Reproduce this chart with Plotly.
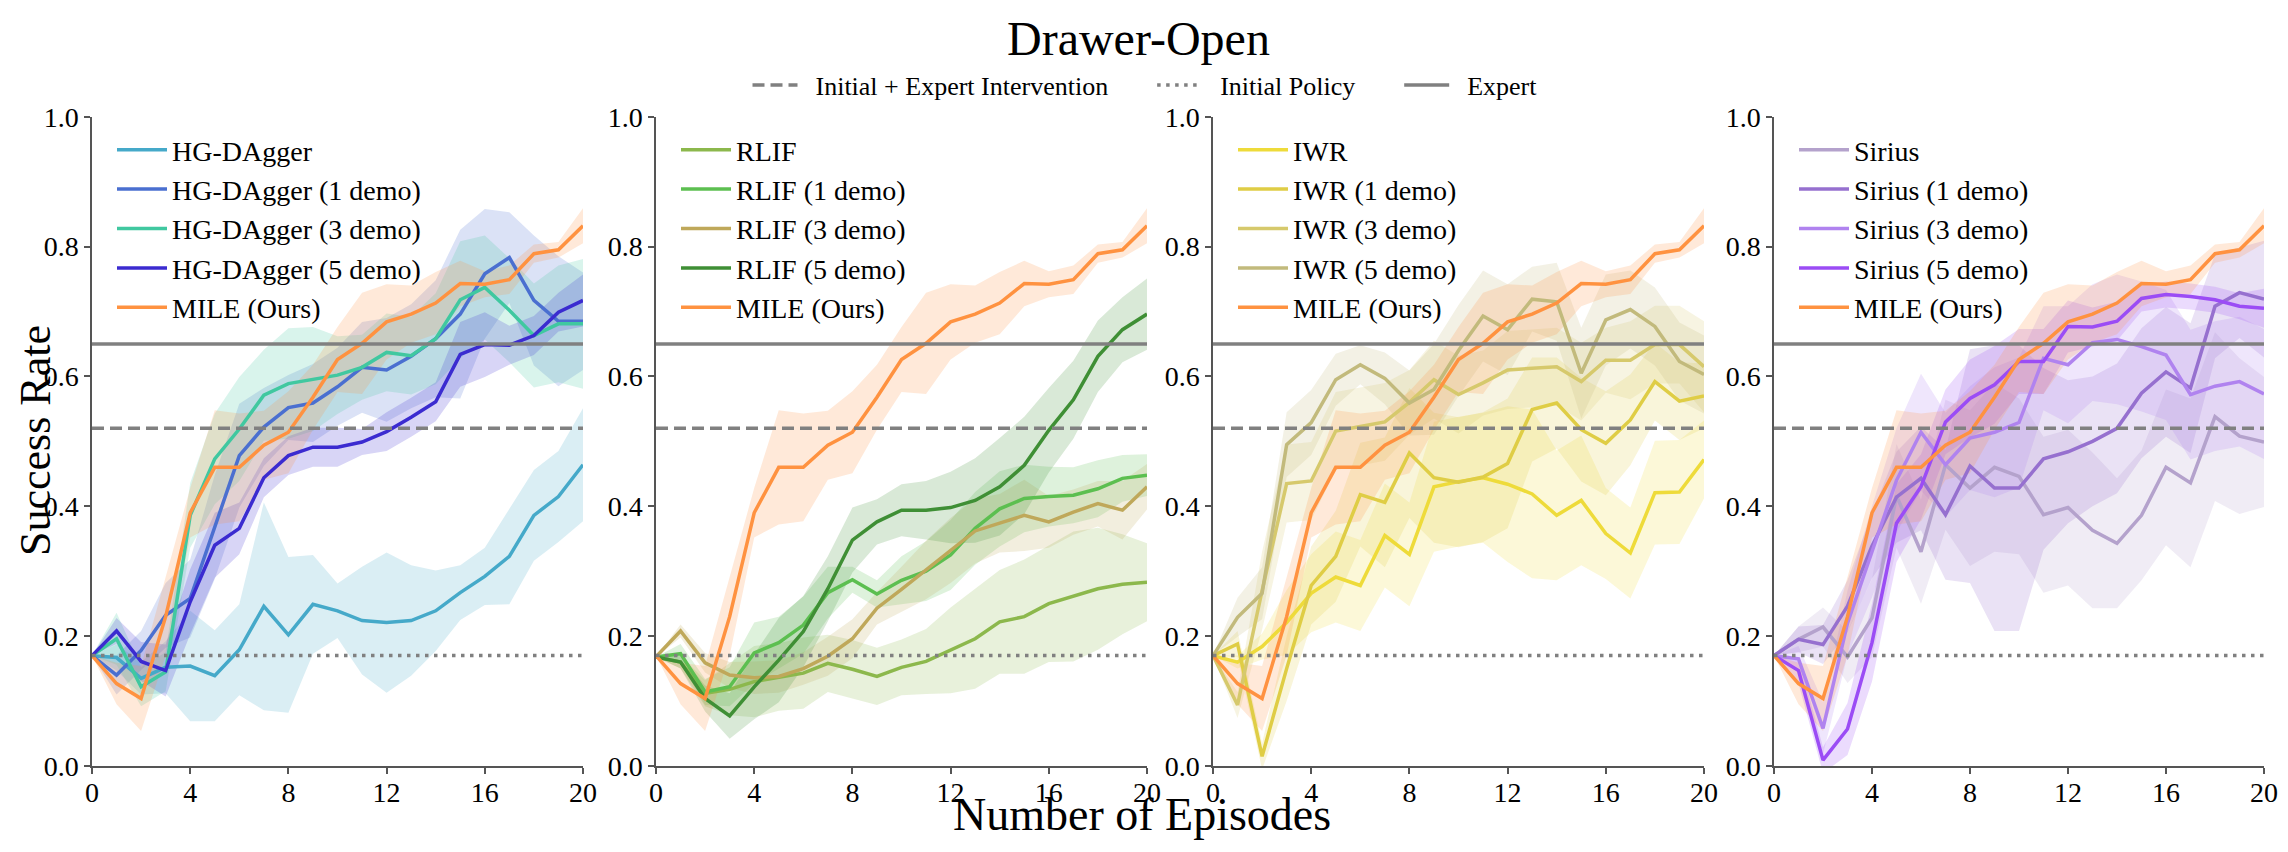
import plotly.graph_objects as go

episodes = list(range(21))

# ---------------- reference levels ----------------
initial_expert_intervention = 0.52
initial_policy = 0.17
expert = 0.65

# ---------------- MILE (shared by all panels) ----------------
mile = [0.17, 0.127, 0.104, 0.23, 0.39, 0.46, 0.46, 0.494, 0.514, 0.568, 0.626, 0.651, 0.684, 0.696, 0.713, 0.743, 0.742, 0.749, 0.789, 0.795, 0.832]
mile_sd = [0.0, 0.032, 0.05, 0.06, 0.038, 0.088, 0.083, 0.053, 0.063, 0.05, 0.05, 0.078, 0.058, 0.044, 0.048, 0.035, 0.02, 0.022, 0.014, 0.012, 0.027]

# ---------------- HG-DAgger panel ----------------
hg = [0.17, 0.167, 0.135, 0.152, 0.154, 0.139, 0.179, 0.246, 0.202, 0.249, 0.239, 0.224, 0.221, 0.224, 0.239, 0.267, 0.292, 0.323, 0.386, 0.415, 0.464]
hg_sd = [0.0, 0.02, 0.025, 0.04, 0.085, 0.07, 0.07, 0.16, 0.12, 0.076, 0.042, 0.083, 0.108, 0.085, 0.062, 0.042, 0.044, 0.074, 0.07, 0.07, 0.087]
hg1 = [0.17, 0.14, 0.178, 0.232, 0.258, 0.368, 0.478, 0.522, 0.552, 0.559, 0.584, 0.614, 0.61, 0.631, 0.658, 0.696, 0.758, 0.783, 0.717, 0.685, 0.685]
hg1_sd = [0.0, 0.03, 0.03, 0.05, 0.06, 0.08, 0.08, 0.06, 0.05, 0.06, 0.06, 0.07, 0.08, 0.08, 0.09, 0.13, 0.1, 0.07, 0.1, 0.1, 0.075]
hg3 = [0.17, 0.196, 0.122, 0.145, 0.386, 0.473, 0.519, 0.571, 0.589, 0.596, 0.602, 0.614, 0.637, 0.632, 0.658, 0.718, 0.737, 0.702, 0.663, 0.681, 0.681]
hg3_sd = [0.0, 0.04, 0.03, 0.03, 0.05, 0.07, 0.08, 0.07, 0.085, 0.08, 0.06, 0.05, 0.06, 0.06, 0.07, 0.09, 0.08, 0.08, 0.08, 0.09, 0.1]
hg5 = [0.17, 0.208, 0.161, 0.147, 0.253, 0.34, 0.366, 0.444, 0.478, 0.491, 0.491, 0.499, 0.515, 0.537, 0.561, 0.634, 0.649, 0.648, 0.663, 0.699, 0.717]
hg5_sd = [0.0, 0.02, 0.03, 0.04, 0.05, 0.05, 0.04, 0.03, 0.03, 0.03, 0.03, 0.02, 0.03, 0.03, 0.03, 0.05, 0.05, 0.03, 0.03, 0.03, 0.04]

# ---------------- RLIF panel ----------------
rlif = [0.168, 0.16, 0.112, 0.118, 0.13, 0.137, 0.143, 0.158, 0.149, 0.138, 0.152, 0.161, 0.178, 0.196, 0.222, 0.23, 0.25, 0.261, 0.273, 0.28, 0.283]
rlif_sd = [0.0, 0.01, 0.02, 0.04, 0.055, 0.052, 0.055, 0.044, 0.045, 0.044, 0.043, 0.05, 0.066, 0.077, 0.08, 0.088, 0.09, 0.1, 0.094, 0.077, 0.06]
rlif1 = [0.168, 0.173, 0.114, 0.122, 0.174, 0.19, 0.217, 0.267, 0.287, 0.265, 0.286, 0.3, 0.325, 0.366, 0.396, 0.412, 0.415, 0.417, 0.427, 0.443, 0.448]
rlif1_sd = [0.0, 0.015, 0.02, 0.03, 0.047, 0.04, 0.044, 0.04, 0.02, 0.021, 0.037, 0.046, 0.054, 0.056, 0.058, 0.052, 0.046, 0.043, 0.044, 0.036, 0.032]
rlif3 = [0.168, 0.208, 0.159, 0.14, 0.136, 0.138, 0.15, 0.169, 0.196, 0.243, 0.272, 0.302, 0.332, 0.362, 0.374, 0.386, 0.376, 0.391, 0.404, 0.394, 0.43]
rlif3_sd = [0.0, 0.01, 0.015, 0.02, 0.025, 0.025, 0.025, 0.03, 0.03, 0.025, 0.035, 0.045, 0.05, 0.05, 0.045, 0.055, 0.04, 0.035, 0.035, 0.045, 0.035]
rlif5 = [0.168, 0.16, 0.104, 0.077, 0.122, 0.163, 0.207, 0.273, 0.348, 0.376, 0.394, 0.394, 0.398, 0.409, 0.43, 0.463, 0.517, 0.564, 0.631, 0.672, 0.696]
rlif5_sd = [0.0, 0.01, 0.02, 0.035, 0.05, 0.065, 0.055, 0.05, 0.05, 0.035, 0.04, 0.045, 0.055, 0.065, 0.075, 0.075, 0.065, 0.06, 0.055, 0.05, 0.055]

# ---------------- IWR panel ----------------
iwr = [0.17, 0.16, 0.184, 0.221, 0.266, 0.291, 0.278, 0.355, 0.326, 0.43, 0.438, 0.444, 0.434, 0.419, 0.386, 0.409, 0.358, 0.328, 0.421, 0.422, 0.472]
iwr_sd = [0.0, 0.01, 0.02, 0.05, 0.06, 0.07, 0.07, 0.08, 0.08, 0.1, 0.1, 0.1, 0.12, 0.13, 0.1, 0.1, 0.07, 0.07, 0.08, 0.08, 0.06]
iwr1 = [0.17, 0.188, 0.015, 0.15, 0.278, 0.323, 0.418, 0.406, 0.482, 0.444, 0.437, 0.445, 0.466, 0.549, 0.559, 0.518, 0.497, 0.533, 0.592, 0.562, 0.57]
iwr1_sd = [0.0, 0.02, 0.02, 0.05, 0.06, 0.07, 0.08, 0.1, 0.1, 0.1, 0.1, 0.1, 0.1, 0.08, 0.07, 0.08, 0.08, 0.07, 0.06, 0.06, 0.05]
iwr3 = [0.17, 0.094, 0.27, 0.435, 0.439, 0.516, 0.523, 0.53, 0.56, 0.595, 0.572, 0.59, 0.61, 0.613, 0.615, 0.592, 0.625, 0.625, 0.649, 0.649, 0.615]
iwr3_sd = [0.0, 0.02, 0.06, 0.06, 0.06, 0.06, 0.06, 0.06, 0.05, 0.06, 0.06, 0.05, 0.06, 0.06, 0.06, 0.06, 0.05, 0.06, 0.06, 0.06, 0.07]
iwr5 = [0.17, 0.229, 0.266, 0.495, 0.529, 0.595, 0.618, 0.597, 0.559, 0.58, 0.64, 0.693, 0.672, 0.719, 0.715, 0.605, 0.687, 0.703, 0.677, 0.623, 0.603]
iwr5_sd = [0.0, 0.03, 0.04, 0.05, 0.05, 0.04, 0.03, 0.04, 0.05, 0.07, 0.07, 0.07, 0.07, 0.05, 0.06, 0.07, 0.07, 0.06, 0.06, 0.06, 0.06]

# ---------------- Sirius panel ----------------
sir = [0.17, 0.195, 0.214, 0.168, 0.228, 0.416, 0.33, 0.464, 0.428, 0.46, 0.446, 0.387, 0.398, 0.363, 0.343, 0.386, 0.46, 0.436, 0.538, 0.508, 0.499]
sir_sd = [0.0, 0.02, 0.03, 0.04, 0.06, 0.08, 0.08, 0.1, 0.12, 0.13, 0.12, 0.12, 0.12, 0.12, 0.1, 0.1, 0.12, 0.13, 0.13, 0.12, 0.1]
sir1 = [0.17, 0.195, 0.187, 0.246, 0.339, 0.414, 0.443, 0.387, 0.462, 0.428, 0.428, 0.473, 0.484, 0.5, 0.52, 0.574, 0.607, 0.582, 0.708, 0.729, 0.719]
sir1_sd = [0.0, 0.02, 0.03, 0.04, 0.05, 0.07, 0.08, 0.1, 0.18, 0.22, 0.22, 0.14, 0.11, 0.1, 0.1, 0.1, 0.1, 0.1, 0.08, 0.07, 0.09]
sir3 = [0.17, 0.165, 0.058, 0.22, 0.33, 0.44, 0.514, 0.464, 0.505, 0.514, 0.529, 0.628, 0.618, 0.652, 0.657, 0.646, 0.633, 0.572, 0.585, 0.592, 0.573]
sir3_sd = [0.0, 0.02, 0.04, 0.05, 0.07, 0.08, 0.09, 0.08, 0.08, 0.1, 0.1, 0.08, 0.09, 0.09, 0.1, 0.1, 0.1, 0.1, 0.1, 0.1, 0.1]
sir5 = [0.17, 0.147, 0.009, 0.057, 0.19, 0.374, 0.43, 0.53, 0.566, 0.587, 0.623, 0.623, 0.677, 0.676, 0.685, 0.72, 0.726, 0.723, 0.718, 0.708, 0.705]
sir5_sd = [0.0, 0.02, 0.02, 0.04, 0.06, 0.06, 0.05, 0.05, 0.06, 0.06, 0.05, 0.05, 0.04, 0.03, 0.03, 0.02, 0.02, 0.02, 0.02, 0.02, 0.03]

x_ticks = [0, 4, 8, 12, 16, 20]
y_ticks = [0.0, 0.2, 0.4, 0.6, 0.8, 1.0]

MILE_COLOR = "#ff9240"
panels = [
    [("HG-DAgger", hg, hg_sd, "#45a9c9"),
     ("HG-DAgger (1 demo)", hg1, hg1_sd, "#4a6fd0"),
     ("HG-DAgger (3 demo)", hg3, hg3_sd, "#40c8a0"),
     ("HG-DAgger (5 demo)", hg5, hg5_sd, "#3b2bd0")],
    [("RLIF", rlif, rlif_sd, "#8cb84c"),
     ("RLIF (1 demo)", rlif1, rlif1_sd, "#5cbf50"),
     ("RLIF (3 demo)", rlif3, rlif3_sd, "#bfa85a"),
     ("RLIF (5 demo)", rlif5, rlif5_sd, "#3f8f35")],
    [("IWR", iwr, iwr_sd, "#eedb3a"),
     ("IWR (1 demo)", iwr1, iwr1_sd, "#dfcd45"),
     ("IWR (3 demo)", iwr3, iwr3_sd, "#d6c96c"),
     ("IWR (5 demo)", iwr5, iwr5_sd, "#c2ba7c")],
    [("Sirius", sir, sir_sd, "#b4a2cc"),
     ("Sirius (1 demo)", sir1, sir1_sd, "#9670cf"),
     ("Sirius (3 demo)", sir3, sir3_sd, "#b083ef"),
     ("Sirius (5 demo)", sir5, sir5_sd, "#9b4cf5")],
]

# The page body adds an 8px margin; the figure is sized so that it plus
# the margin fills the 2288x852 window, and positions are given in window pixels.
OFF = 8
W, H = 2288 - 2 * OFF, 852 - 2 * OFF


def px(x):
    return (x - OFF) / W


def py(y):
    return 1 - (y - OFF) / H


x_domains = [[px(92), px(583)], [px(656), px(1147)], [px(1213), px(1704)], [px(1774), px(2264)]]
y_domain = [py(766), py(116.7)]
legend_x = [px(112), px(676), px(1233), px(1794)]
FONT = "Liberation Serif"
NB = "\u00a0"


def rgba(hex_color, a):
    h = hex_color.lstrip("#")
    r, g, b = int(h[0:2], 16), int(h[2:4], 16), int(h[4:6], 16)
    return f"rgba({r},{g},{b},{a})"


fig = go.Figure()

for p, series in enumerate(panels):
    xa = "x" if p == 0 else f"x{p + 1}"
    ya = "y" if p == 0 else f"y{p + 1}"
    leg = "legend" if p == 0 else f"legend{p + 1}"
    full = series + [("MILE (Ours)", mile, mile_sd, MILE_COLOR)]
    # bands
    for name, vals, sd, col in full:
        up = [v + s for v, s in zip(vals, sd)]
        lo = [v - s for v, s in zip(vals, sd)]
        fig.add_trace(go.Scatter(
            x=episodes + episodes[::-1], y=up + lo[::-1], xaxis=xa, yaxis=ya,
            fill="toself", fillcolor=rgba(col, 0.2), line=dict(width=0),
            mode="lines", showlegend=False, hoverinfo="skip"))
    # mean lines
    for i, (name, vals, sd, col) in enumerate(full):
        fig.add_trace(go.Scatter(
            x=episodes, y=vals, xaxis=xa, yaxis=ya, mode="lines", name=name,
            line=dict(color=col, width=3.5), legend=leg, legendgroup=f"p{p}_{i}"))
    # reference lines
    refs = [(NB * 2 + "Initial + Expert Intervention" + NB * 6, initial_expert_intervention, "12px,6px"),
            (NB * 2 + "Initial Policy" + NB * 6, initial_policy, "3.5px,5.5px"),
            (NB * 2 + "Expert", expert, "solid")]
    for name, lvl, dash in refs:
        fig.add_trace(go.Scatter(
            x=[0, 20], y=[lvl, lvl], xaxis=xa, yaxis=ya, mode="lines", name=name,
            line=dict(color="#808080", width=3.5, dash=dash),
            showlegend=(p == 0), legend="legend5", hoverinfo="skip"))

axis_common = dict(showline=True, linecolor="#555555", linewidth=1.5, ticks="outside",
                   ticklen=6, tickwidth=1.5, tickcolor="#555555", showgrid=False, zeroline=False,
                   automargin=False, ticklabeloverflow="allow",
                   tickfont=dict(family=FONT, size=28, color="black"))
layout = dict(width=W, height=H, margin=dict(l=0, r=0, t=0, b=0, pad=0, autoexpand=False),
              paper_bgcolor="white", plot_bgcolor="white",
              font=dict(family=FONT, color="black"))
for p in range(4):
    xk = "xaxis" if p == 0 else f"xaxis{p + 1}"
    yk = "yaxis" if p == 0 else f"yaxis{p + 1}"
    ya = "y" if p == 0 else f"y{p + 1}"
    xa = "x" if p == 0 else f"x{p + 1}"
    layout[xk] = dict(domain=x_domains[p], range=[0, 20], tickvals=x_ticks, anchor=ya,
                      ticklabelstandoff=-5, **axis_common)
    layout[yk] = dict(domain=y_domain, range=[0, 1], tickvals=y_ticks, tickformat=".1f", anchor=xa, **axis_common)
    lk = "legend" if p == 0 else f"legend{p + 1}"
    layout[lk] = dict(x=legend_x[p], y=py(125), xanchor="left", yanchor="top",
                      bgcolor="rgba(0,0,0,0)", font=dict(family=FONT, size=28, color="black"),
                      tracegroupgap=0, itemwidth=50)
layout["legend5"] = dict(orientation="h", x=px(1145), y=py(85), xanchor="center", yanchor="middle",
                         bgcolor="rgba(0,0,0,0)", font=dict(family=FONT, size=26, color="black"),
                         itemwidth=45)
layout["annotations"] = [
    dict(text="Drawer-Open", x=px(1138), y=py(38), xref="paper", yref="paper", showarrow=False,
         xanchor="center", yanchor="middle", font=dict(family=FONT, size=48, color="black")),
    dict(text="Number of Episodes", x=px(1142), y=py(814), xref="paper", yref="paper", showarrow=False,
         xanchor="center", yanchor="middle", font=dict(family=FONT, size=46, color="black")),
    dict(text="Success Rate", x=px(36), y=py(441), xref="paper", yref="paper", showarrow=False,
         textangle=-90, xanchor="center", yanchor="middle", font=dict(family=FONT, size=44, color="black")),
]
fig.update_layout(**layout)
fig.write_html("out.html")
